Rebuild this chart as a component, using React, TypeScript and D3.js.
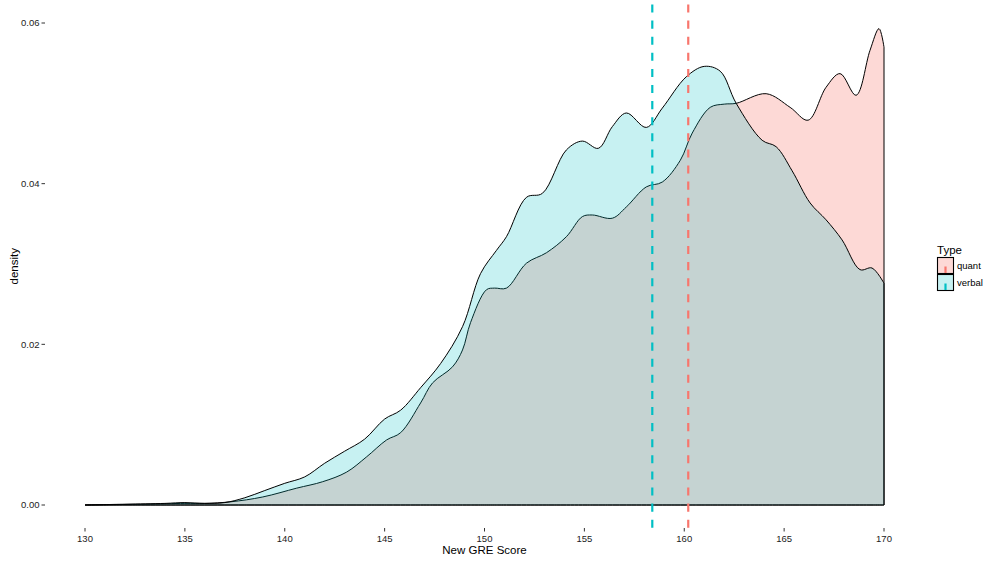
import * as d3 from 'd3';

const WIDTH = 1000;
const HEIGHT = 562;

// panel bounds in pixels
const PANEL = { left: 45, right: 924, top: 4.5, bottom: 528 };

const seriesNames = ['quant', 'verbal'];
const seriesColors = ['#F8766D', '#00BFC4'];
const seriesAlpha = [0.28, 0.22];

const quantScore = [130, 133, 135, 136, 137.3, 138.9, 140.6, 141.9, 143.1, 144.1, 145.1, 145.8, 146.8, 147.4, 148.4, 148.9, 149.3, 150.1, 150.5, 151.1, 152.1, 153.1, 154.1, 154.9, 155.4, 156.4, 157.1, 158.1, 158.9, 159.8, 160.4, 161.3, 162, 162.6, 164.1, 165.3, 166.2, 167.1, 167.8, 168.6, 169.3, 169.75, 170];
const quantDensity = [0, 0.0001, 0.0002, 0.0002, 0.0004, 0.001, 0.0021, 0.0029, 0.0041, 0.006, 0.0081, 0.009, 0.0127, 0.0152, 0.0172, 0.0193, 0.0227, 0.0268, 0.027, 0.027, 0.0301, 0.0314, 0.0334, 0.0359, 0.0361, 0.0357, 0.0371, 0.0396, 0.0402, 0.0429, 0.0463, 0.0495, 0.0499, 0.05, 0.0512, 0.0495, 0.0479, 0.052, 0.0537, 0.051, 0.0566, 0.0593, 0.057];

const verbalScore = [130, 132, 134, 135, 136, 137, 138, 139, 140, 141, 142, 143, 144, 145, 145.8, 146.8, 147.8, 148.9, 149.8, 150.6, 151.1, 152.1, 152.9, 154.1, 154.9, 155.7, 156.4, 157.1, 158.1, 158.9, 160.1, 161, 161.8, 162.6, 163.9, 164.6, 165.4, 166.3, 167.1, 167.9, 168.8, 169.4, 170];
const verbalDensity = [0, 0.0001, 0.0002, 0.0003, 0.0002, 0.0003, 0.0009, 0.0018, 0.0027, 0.0035, 0.0052, 0.0067, 0.0082, 0.0107, 0.0118, 0.0146, 0.0176, 0.0222, 0.0288, 0.0317, 0.0334, 0.0383, 0.0388, 0.0442, 0.0453, 0.0444, 0.0471, 0.0488, 0.047, 0.0494, 0.0533, 0.0546, 0.054, 0.05, 0.0454, 0.0446, 0.0416, 0.0376, 0.0355, 0.033, 0.0293, 0.0295, 0.0276];

// mean score per type (dashed lines)
const meanScore = [160.2, 158.4];

const xTicks = [130, 135, 140, 145, 150, 155, 160, 165, 170];
const yTicks = [0, 0.02, 0.04, 0.06];

const FONT = '"Liberation Sans", Arial, Helvetica, sans-serif';

export default function App() {
    const xScale = d3.scaleLinear().domain([130, 170]).range([85, 884]);
    const yScale = d3.scaleLinear().domain([0, 0.06]).range([505, 23]);

    const series = [
        quantScore.map((s, i) => [s, quantDensity[i]] as [number, number]),
        verbalScore.map((s, i) => [s, verbalDensity[i]] as [number, number]),
    ];

    const areaBuilder = d3
        .area<[number, number]>()
        .x((d) => xScale(d[0]))
        .y0(yScale(0))
        .y1((d) => Math.min(yScale(0), yScale(d[1])))
        .curve(d3.curveCatmullRom.alpha(0.5));

    const legendX = 937;
    const legendY = 257;
    const keySize = 17;

    return (
        <svg
            width={WIDTH}
            height={HEIGHT}
            style={{ position: 'absolute', left: 0, top: 0, background: '#fff' }}
            fontFamily={FONT}
        >
            {/* density areas */}
            {series.map((data, i) => (
                <path
                    key={seriesNames[i]}
                    d={areaBuilder(data) || ''}
                    fill={seriesColors[i]}
                    fillOpacity={seriesAlpha[i]}
                    stroke="#000"
                    strokeWidth={1}
                />
            ))}

            {/* mean lines */}
            {meanScore.map((m, i) => (
                <line
                    key={'mean' + i}
                    x1={xScale(m)}
                    x2={xScale(m)}
                    y1={PANEL.top}
                    y2={PANEL.bottom}
                    stroke={seriesColors[i]}
                    strokeWidth={2.2}
                    strokeDasharray="8.05,8.05"
                />
            ))}

            {/* y axis */}
            {yTicks.map((t) => (
                <g key={'y' + t}>
                    <line x1={41.5} x2={45} y1={yScale(t)} y2={yScale(t)} stroke="#333" strokeWidth={1} />
                    <text x={39.5} y={yScale(t)} dy="0.35em" textAnchor="end" fontSize={9.5} fill="#222">
                        {t.toFixed(2)}
                    </text>
                </g>
            ))}

            {/* x axis */}
            {xTicks.map((t) => (
                <g key={'x' + t}>
                    <line x1={xScale(t)} x2={xScale(t)} y1={PANEL.bottom} y2={PANEL.bottom + 3.5} stroke="#333" strokeWidth={1} />
                    <text x={xScale(t)} y={PANEL.bottom + 13.5} textAnchor="middle" fontSize={9.5} fill="#222">
                        {t}
                    </text>
                </g>
            ))}

            <text x={(PANEL.left + PANEL.right) / 2} y={554} textAnchor="middle" fontSize={11.5} fill="#000">
                New GRE Score
            </text>
            <text
                transform={`translate(18,${(PANEL.top + PANEL.bottom) / 2}) rotate(-90)`}
                textAnchor="middle"
                fontSize={11.5}
                fill="#000"
            >
                density
            </text>

            {/* legend */}
            <text x={legendX} y={legendY - 3.5} fontSize={11.5} fill="#000">
                Type
            </text>
            {seriesNames.map((name, i) => {
                const ky = legendY + i * keySize;
                return (
                    <g key={'leg' + name}>
                        <rect x={legendX} y={ky} width={keySize} height={keySize} fill="#fff" />
                        <rect
                            x={legendX + 0.5}
                            y={ky + 0.5}
                            width={keySize - 1}
                            height={keySize - 1}
                            fill={seriesColors[i]}
                            fillOpacity={seriesAlpha[i]}
                            stroke="#000"
                            strokeWidth={1.1}
                        />
                        <line
                            x1={legendX + keySize / 2}
                            x2={legendX + keySize / 2}
                            y1={ky + keySize / 2 + 1}
                            y2={ky + keySize - 1}
                            stroke={seriesColors[i]}
                            strokeWidth={2.2}
                        />
                        <text x={legendX + keySize + 3} y={ky + keySize / 2} dy="0.35em" fontSize={9.5} fill="#000">
                            {name}
                        </text>
                    </g>
                );
            })}
        </svg>
    );
}
